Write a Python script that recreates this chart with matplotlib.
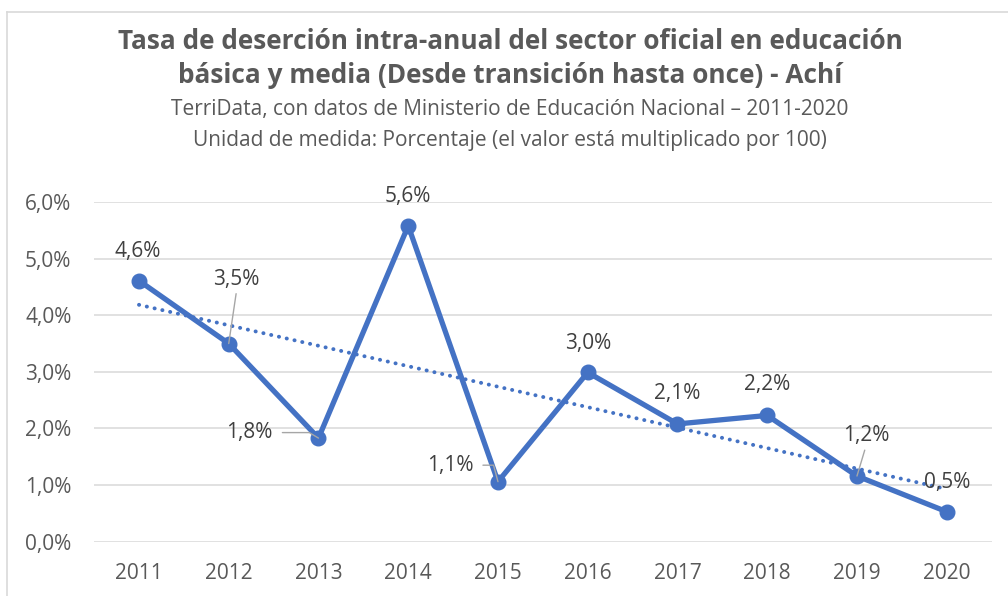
import matplotlib
matplotlib.use('Agg')
import matplotlib.pyplot as plt
import numpy as np
from matplotlib.ticker import FuncFormatter, FixedLocator
from matplotlib.lines import Line2D

# ---------------- data ----------------
years = [2011, 2012, 2013, 2014, 2015, 2016, 2017, 2018, 2019, 2020]
values = [4.61, 3.50, 1.83, 5.58, 1.06, 2.99, 2.08, 2.23, 1.16, 0.53]
value_labels = ['4,6%', '3,5%', '1,8%', '5,6%', '1,1%', '3,0%', '2,1%', '2,2%', '1,2%', '0,5%']
y_ticks = [0, 1, 2, 3, 4, 5, 6]
title_lines = ['Tasa de deserción intra-anual del sector oficial en educación',
               'básica y media (Desde transición hasta once) - Achí']
subtitle_lines = ['TerriData, con datos de Ministerio de Educación Nacional – 2011-2020',
                  'Unidad de medida: Porcentaje (el valor está multiplicado por 100)']

# ---------------- style ----------------
W, H, DPI = 1008, 596, 100
BLUE = '#4472C4'
GRID = '#D9D9D9'
TICK_C = '#595959'
LABEL_C = '#404040'
TITLE_C = '#595959'
LEADER_C = '#A6A6A6'
FONT = ['Open Sans', 'DejaVu Sans']
TXT = 15

# label offsets in pixels (dx right, dy up) relative to the point
label_offsets = [(-1, 32), (8, 67), (-69, 8), (0, 32), (-48, 19),
                 (0, 31), (0, 33), (0, 33), (9, 43), (0, 32)]
# leader line specs: index -> (relpos, connectionstyle, shrinkA)
leaders = {
    1: ((0.5, 0.0), 'arc3', 1),
    2: ((1.0, 0.5), 'angle,angleA=0,angleB=-31,rad=0', 5),
    4: ((1.0, 0.5), 'angle,angleA=0,angleB=-75,rad=0', 5),
    8: ((0.5, 0.0), 'arc3', 1),
}

plt.rcParams['font.family'] = FONT

fig = plt.figure(figsize=(W / DPI, H / DPI), dpi=DPI)
fig.patch.set_facecolor('white')

# outer chart border (top and left visible)
bx, by = 6.7 / W, 1 - 11.7 / H
fig.add_artist(Line2D([bx, 1.0], [by, by], transform=fig.transFigure, color=GRID, lw=1.2))
fig.add_artist(Line2D([bx, bx], [0.0, by], transform=fig.transFigure, color=GRID, lw=1.2))

left, right = 94.1 / W, 991.6 / W
bottom, top = 1 - 541.7 / H, 1 - 202.0 / H
ax = fig.add_axes([left, bottom, right - left, top - bottom])

ax.set_xlim(years[0] - 0.5, years[-1] + 0.5)
ax.set_ylim(y_ticks[0], y_ticks[-1])

ax.yaxis.set_major_locator(FixedLocator(y_ticks))
ax.yaxis.set_major_formatter(FuncFormatter(lambda v, p: f'{v:.1f}%'.replace('.', ',')))
ax.xaxis.set_major_locator(FixedLocator(years))
ax.xaxis.set_major_formatter(FuncFormatter(lambda v, p: f'{int(round(v))}'))

ax.grid(axis='y', color=GRID, lw=1.1)
ax.set_axisbelow(True)
for s in ax.spines.values():
    s.set_visible(False)
ax.tick_params(axis='both', length=0, labelsize=TXT, colors=TICK_C)
ax.tick_params(axis='y', pad=16.3)
ax.tick_params(axis='x', pad=15.2)

# trend line (linear least squares)
coef = np.polyfit(np.array(years, dtype=float), np.array(values), 1)
trend_x = np.array([years[0], years[-1]], dtype=float)
trend_y = np.polyval(coef, trend_x)
ax.plot(trend_x, trend_y, color=BLUE, lw=2.8, linestyle=(0, (0.05, 2.0)),
        dash_capstyle='round', zorder=2)

# main series
ax.plot(years, values, color=BLUE, lw=3.8, marker='o', markersize=10.5,
        markerfacecolor=BLUE, markeredgecolor=BLUE, zorder=3,
        solid_joinstyle='round')

# data labels
for i, (x, v, lab) in enumerate(zip(years, values, value_labels)):
    dx, dy = label_offsets[i]
    kw = {}
    if i in leaders:
        relpos, cs, shA = leaders[i]
        kw['arrowprops'] = dict(arrowstyle='-', color=LEADER_C, lw=1.0,
                                relpos=relpos, connectionstyle=cs,
                                shrinkA=shA, shrinkB=0)
    ax.annotate(lab, xy=(x, v), xytext=(dx, dy), textcoords='offset pixels',
                ha='center', va='center_baseline', fontsize=TXT,
                color=LABEL_C, zorder=5, **kw)

# titles
cx = 510 / W
fig.text(cx, 1 - 49 / H, title_lines[0], ha='center', va='baseline',
         fontsize=18.9, fontweight='bold', color=TITLE_C)
fig.text(cx, 1 - 83 / H, title_lines[1], ha='center', va='baseline',
         fontsize=18.9, fontweight='bold', color=TITLE_C)
fig.text(cx, 1 - 115 / H, subtitle_lines[0], ha='center', va='baseline',
         fontsize=15, color=TITLE_C)
fig.text(cx, 1 - 146 / H, subtitle_lines[1], ha='center', va='baseline',
         fontsize=15, color=TITLE_C)

fig.savefig('out.png', dpi=DPI, facecolor='white')
